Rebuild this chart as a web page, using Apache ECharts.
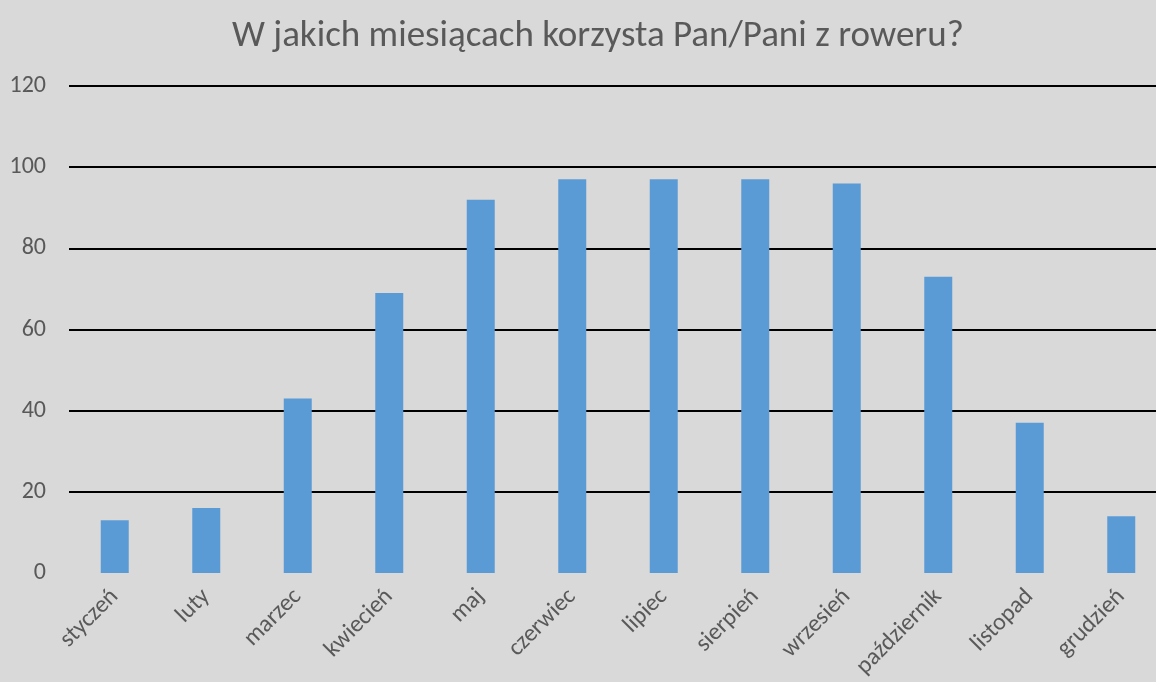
<!DOCTYPE html>
<html>
<head>
<meta charset="utf-8">
<script src="https://cdn.jsdelivr.net/npm/echarts@6/dist/echarts.min.js"></script>
<style>
    html, body { margin: 0; padding: 0; background: #d9d9d9; }
    #chart { width: 1156px; height: 682px; }
</style>
</head>
<body>
<div id="chart"></div>
<script>
// miesiące
var months = ['styczeń', 'luty', 'marzec', 'kwiecień', 'maj', 'czerwiec', 'lipiec', 'sierpień', 'wrzesień', 'październik', 'listopad', 'grudzień'];
// liczba odpowiedzi
var counts = [13, 16, 43, 69, 92, 97, 97, 97, 96, 73, 37, 14];

var fontName = 'Carlito, "Open Sans", sans-serif';

var chart = echarts.init(document.getElementById('chart'));
var option = {
    backgroundColor: '#d9d9d9',
    title: {
        text: 'W jakich miesiącach korzysta Pan/Pani z roweru?',
        left: 227,
        top: 13,
        textStyle: {
            color: '#595959',
            fontFamily: fontName,
            fontWeight: 'normal',
            fontSize: 37
        }
    },
    grid: {
        left: 69,
        top: 86,
        width: 1098,
        height: 487,
        outerBoundsMode: 'none',
        containLabel: false
    },
    xAxis: {
        type: 'category',
        data: months,
        axisLine: { show: false },
        axisTick: { show: false },
        axisLabel: {
            rotate: 45,
            interval: 0,
            margin: 20,
            color: '#595959',
            fontFamily: fontName,
            fontSize: 24
        }
    },
    yAxis: {
        type: 'value',
        min: 0,
        max: 120,
        interval: 20,
        axisLine: { show: false },
        axisTick: { show: false },
        axisLabel: {
            margin: 23,
            color: '#595959',
            fontFamily: fontName,
            fontSize: 24
        },
        splitLine: {
            showMinLine: false,
            lineStyle: { color: '#000', width: 2 }
        }
    },
    series: [{
        type: 'bar',
        data: counts,
        barWidth: 28,
        itemStyle: { color: '#5b9bd5' }
    }]
};
chart.setOption(option);
</script>
</body>
</html>
